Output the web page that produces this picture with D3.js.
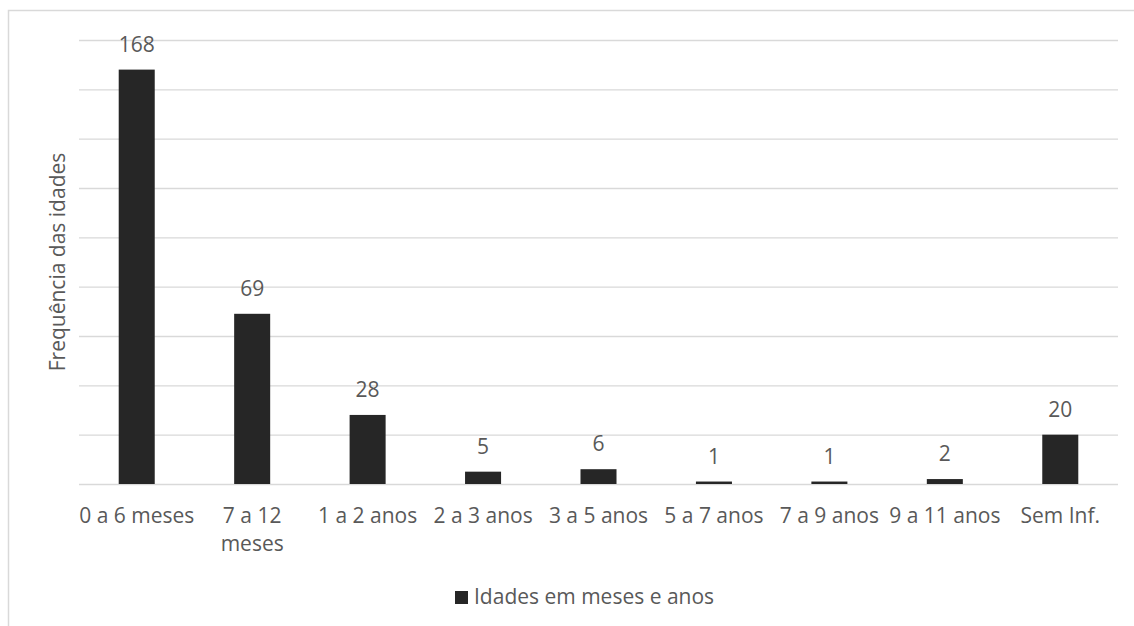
<!DOCTYPE html>
<html>
<head>
<meta charset="utf-8">
<script src="https://cdn.jsdelivr.net/npm/d3@7/dist/d3.min.js"></script>
<style>
  html, body { margin: 0; padding: 0; background: #ffffff; }
  svg { display: block; }
  text { font-family: "Open Sans", "Noto Sans", sans-serif; fill: #595959; }
</style>
</head>
<body>
<svg id="chart" width="1134" height="626"></svg>
<script>
// Age groups and how many cases fall into each
const categories = ["0 a 6 meses", "7 a 12 meses", "1 a 2 anos", "2 a 3 anos", "3 a 5 anos",
                    "5 a 7 anos", "7 a 9 anos", "9 a 11 anos", "Sem Inf."];
const values = [168, 69, 28, 5, 6, 1, 1, 2, 20];
const seriesName = "Idades em meses e anos";
const yTitle = "Frequência das idades";
const yTicks = [0, 20, 40, 60, 80, 100, 120, 140, 160, 180];

const W = 1134, H = 626;
const plot = { left: 79, right: 1118, top: 40, bottom: 484 };
const barColor = "#262626";
const gridColor = "#d9d9d9";
const fontSize = 21;

const svg = d3.select("#chart");

// Outer chart frame
svg.append("rect")
  .attr("x", 8.5).attr("y", 10.5)
  .attr("width", W).attr("height", H)
  .attr("fill", "#ffffff")
  .attr("stroke", gridColor).attr("stroke-width", 1.5);

const x = d3.scaleBand()
  .domain(categories)
  .range([plot.left, plot.right])
  .paddingInner(0.688)
  .paddingOuter(0.344);

const y = d3.scaleLinear()
  .domain([0, 180])
  .range([plot.bottom, plot.top]);

// Horizontal gridlines (no tick labels shown)
const yAxis = d3.axisLeft(y)
  .tickValues(yTicks)
  .tickSize(-(plot.right - plot.left))
  .tickFormat("");
const gy = svg.append("g")
  .attr("transform", `translate(${plot.left},0)`)
  .call(yAxis);
gy.select(".domain").remove();
gy.selectAll(".tick line")
  .attr("stroke", gridColor)
  .attr("stroke-width", 1.3);

// Bars
svg.append("g").selectAll("rect")
  .data(values)
  .join("rect")
  .attr("x", (d, i) => x(categories[i]))
  .attr("y", d => y(d))
  .attr("width", x.bandwidth())
  .attr("height", d => y(0) - y(d))
  .attr("fill", barColor);

// Value labels above bars
svg.append("g").selectAll("text")
  .data(values)
  .join("text")
  .attr("x", (d, i) => x(categories[i]) + x.bandwidth() / 2)
  .attr("y", d => y(d) - 18)
  .attr("text-anchor", "middle")
  .attr("font-size", fontSize)
  .attr("fill", "#404040")
  .text(d => d);

// Category axis (labels only, wrapped to the band width)
const xAxis = d3.axisBottom(x).tickSize(0).tickPadding(0);
const gx = svg.append("g")
  .attr("transform", `translate(0,${plot.bottom})`)
  .call(xAxis);
gx.select(".domain").remove();
gx.selectAll(".tick text")
  .attr("font-size", fontSize)
  .attr("fill", "#595959")
  .attr("font-family", null)
  .call(wrap, x.step());

function wrap(sel, maxWidth) {
  sel.each(function () {
    const t = d3.select(this);
    const words = t.text().split(/\s+/);
    t.text(null);
    let line = [];
    let lineNo = 0;
    let tspan = t.append("tspan").attr("x", 0).attr("y", 39);
    words.forEach(w => {
      line.push(w);
      tspan.text(line.join(" "));
      if (tspan.node().getComputedTextLength() > maxWidth && line.length > 1) {
        line.pop();
        tspan.text(line.join(" "));
        line = [w];
        lineNo++;
        tspan = t.append("tspan").attr("x", 0).attr("y", 39 + lineNo * 28).text(w);
      }
    });
    t.attr("dy", null);
  });
}

// Y axis title
svg.append("text")
  .attr("transform", `translate(65,${(plot.top + plot.bottom) / 2}) rotate(-90)`)
  .attr("text-anchor", "middle")
  .attr("font-size", fontSize)
  .text(yTitle);

// Legend
const legend = svg.append("g").attr("transform", "translate(455,591)");
legend.append("rect")
  .attr("width", 13).attr("height", 13)
  .attr("fill", barColor);
legend.append("text")
  .attr("x", 19).attr("y", 13)
  .attr("font-size", fontSize)
  .text(seriesName);
</script>
</body>
</html>
